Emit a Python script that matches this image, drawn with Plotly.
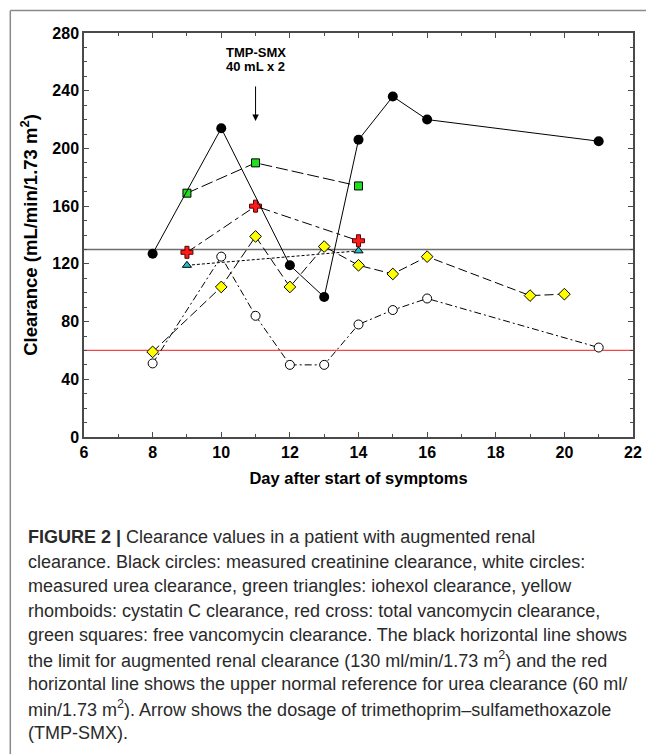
import plotly.graph_objects as go

# ---- data ----
creat_days = [8, 10, 12, 13, 14, 15, 16, 21]
creat_vals = [127, 214, 119, 97, 206, 236, 220, 205]

urea_days = [8, 10, 11, 12, 13, 14, 15, 16, 21]
urea_vals = [51, 125, 84, 50, 50, 78, 88, 96, 62]

cys_days = [8, 10, 11, 12, 13, 14, 15, 16, 19, 20]
cys_vals = [59, 104, 139, 104, 132, 119, 113, 125, 98, 99]

iohex_days = [9, 14]
iohex_vals = [119, 129]

vanc_tot_days = [9, 11, 14]
vanc_tot_vals = [128, 160, 136]

vanc_free_days = [9, 11, 14]
vanc_free_vals = [169, 190, 174]

arc_limit = 130
urea_ref = 60

x_ticks = [6, 8, 10, 12, 14, 16, 18, 20, 22]
y_ticks = [0, 40, 80, 120, 160, 200, 240, 280]

caption_lines = [
    "<b>FIGURE 2 |</b> Clearance values in a patient with augmented renal",
    "clearance. Black circles: measured creatinine clearance, white circles:",
    "measured urea clearance, green triangles: iohexol clearance, yellow",
    "rhomboids: cystatin C clearance, red cross: total vancomycin clearance,",
    "green squares: free vancomycin clearance. The black horizontal line shows",
    "the limit for augmented renal clearance (130 ml/min/1.73 m<sup>2</sup>) and the red",
    "horizontal line shows the upper normal reference for urea clearance (60 ml/",
    "min/1.73 m<sup>2</sup>). Arrow shows the dosage of trimethoprim\u2013sulfamethoxazole",
    "(TMP-SMX).",
]

# ---- layout geometry ----
OFF = 8                      # page body margin
W, H = 646, 746
PL, PR, PT, PB = 84, 639, 33, 437   # plot area edges in page pixels
L = PL - OFF
R = W - (PR - OFF)
T = PT - OFF
B = H - (PB - OFF)
PW = PR - PL
PH = PB - PT

def px_x(p):
    return (p - PL) / PW

def px_y(p):
    return (PB - p) / PH

FONT = "Liberation Sans, Arial, sans-serif"

fig = go.Figure()

# reference lines
fig.add_trace(go.Scatter(x=[6, 22], y=[arc_limit, arc_limit], mode="lines",
                         line=dict(color="#6e6e6e", width=1.6), hoverinfo="skip", showlegend=False))
fig.add_trace(go.Scatter(x=[6, 22], y=[urea_ref, urea_ref], mode="lines",
                         line=dict(color="#f04848", width=1.2), hoverinfo="skip", showlegend=False))

# iohexol (cyan triangles, dotted)
fig.add_trace(go.Scatter(x=iohex_days, y=iohex_vals, mode="lines+markers",
                         line=dict(color="black", width=1, dash="3px,2px"),
                         marker=dict(symbol="triangle-up", size=8, color="#19c3cf",
                                     line=dict(color="black", width=1)),
                         showlegend=False))

# urea (white circles, dash-dot)
fig.add_trace(go.Scatter(x=urea_days, y=urea_vals, mode="lines+markers",
                         line=dict(color="black", width=1, dash="7px,3px,2px,3px"),
                         marker=dict(symbol="circle", size=9, color="white",
                                     line=dict(color="black", width=1)),
                         showlegend=False))

# cystatin C (yellow diamonds, dashed)
fig.add_trace(go.Scatter(x=cys_days, y=cys_vals, mode="lines+markers",
                         line=dict(color="black", width=1, dash="9px,4px"),
                         marker=dict(symbol="diamond", size=9, color="#ffff00",
                                     line=dict(color="black", width=1)),
                         showlegend=False))

# total vancomycin (red cross)
fig.add_trace(go.Scatter(x=vanc_tot_days, y=vanc_tot_vals, mode="lines+markers",
                         line=dict(color="black", width=1, dash="10px,4px,4px,4px"),
                         marker=dict(symbol="cross", size=10, color="#ff1a1a",
                                     line=dict(color="#5a0000", width=1)),
                         showlegend=False))

# free vancomycin (green squares)
fig.add_trace(go.Scatter(x=vanc_free_days, y=vanc_free_vals, mode="lines+markers",
                         line=dict(color="black", width=1, dash="12px,4px"),
                         marker=dict(symbol="square", size=8, color="#1ee01e",
                                     line=dict(color="black", width=1)),
                         showlegend=False))

# creatinine (black circles, solid)
fig.add_trace(go.Scatter(x=creat_days, y=creat_vals, mode="lines+markers",
                         line=dict(color="black", width=1),
                         marker=dict(symbol="circle", size=10, color="black"),
                         showlegend=False))

axis_common = dict(
    showgrid=False, zeroline=False, showline=True, mirror="allticks",
    linecolor="#4a4a4a", linewidth=1.5, ticks="inside", ticklen=5,
    tickcolor="#4a4a4a", tickwidth=1,
    tickfont=dict(family=FONT, size=16, color="black", weight="bold"),
)

fig.update_xaxes(range=[6, 22], tickvals=x_ticks, ticktext=[str(v) for v in x_ticks],
                 minor=dict(dtick=1, ticks="inside", ticklen=3, tickcolor="#4a4a4a"),
                 title=dict(text="<b>Day after start of symptoms</b>", standoff=12,
                            font=dict(family=FONT, size=16.5, color="black")),
                 **axis_common)
fig.update_yaxes(range=[0, 280], tickvals=y_ticks, ticktext=[str(v) for v in y_ticks],
                 minor=dict(dtick=10, ticks="inside", ticklen=3, tickcolor="#4a4a4a"),
                 title=dict(text="<b>Clearance (mL/min/1.73 m<sup>2</sup>)</b>", standoff=10,
                            font=dict(family=FONT, size=18.5, color="black")),
                 **axis_common)

annotations = []
# TMP-SMX arrow and labels
annotations.append(dict(x=11, y=219, ax=11, ay=244, xref="x", yref="y", axref="x", ayref="y",
                        text="", showarrow=True, arrowhead=2, arrowsize=1.3, arrowwidth=1,
                        arrowcolor="black"))
annotations.append(dict(x=11, y=px_y(52), xref="x", yref="paper", text="<b>TMP-SMX</b>",
                        showarrow=False, xanchor="center", yanchor="middle",
                        font=dict(family=FONT, size=13, color="black")))
annotations.append(dict(x=11, y=px_y(67), xref="x", yref="paper", text="<b>40 mL x 2</b>",
                        showarrow=False, xanchor="center", yanchor="middle",
                        font=dict(family=FONT, size=13, color="black")))

# caption
for i, line in enumerate(caption_lines):
    annotations.append(dict(x=px_x(25), y=px_y(537 + i * 24.5), xref="paper", yref="paper",
                            text=line, showarrow=False, xanchor="left", yanchor="middle",
                            font=dict(family=FONT, size=18, color="#2a2a2a")))

shapes = [
    dict(type="line", xref="paper", yref="paper", x0=px_x(9.5), x1=px_x(9.5),
         y0=px_y(10.5), y1=px_y(800), line=dict(color="#8a8a8a", width=1.5)),
    dict(type="line", xref="paper", yref="paper", x0=px_x(9.5), x1=px_x(700),
         y0=px_y(10.5), y1=px_y(10.5), line=dict(color="#8a8a8a", width=1.5)),
]

fig.update_layout(
    width=W, height=H,
    margin=dict(l=L, r=R, t=T, b=B),
    paper_bgcolor="white", plot_bgcolor="white",
    annotations=annotations, shapes=shapes,
    showlegend=False,
)

fig.write_html("out.html")
